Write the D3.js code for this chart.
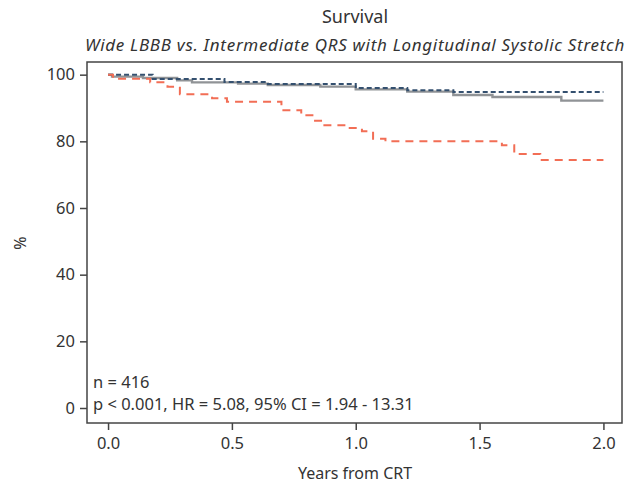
<!DOCTYPE html>
<html lang="en">
  <head>
    <meta charset="UTF-8" />
    <title>Survival</title>
    <script src="https://cdn.jsdelivr.net/npm/d3@7"></script>
    <style>
      body { margin: 0; background: #fff; }
      text { font-family: 'Noto Sans', 'Open Sans', sans-serif; fill: #333; }
    </style>
  </head>
  <body>
    <div id="chart_svg"></div>
    <script>
      // step times (years) and survival (%)
      const greyTimes = [0, 0.016, 0.141, 0.279, 0.339, 0.525, 0.645, 0.857, 1.0, 1.208, 1.394, 1.552, 1.83, 2.0]
      const greyValues = [100, 99.4, 99.0, 98.3, 97.7, 97.3, 96.9, 96.4, 95.6, 94.9, 93.9, 93.3, 92.2, 92.2]

      const blueTimes = [0, 0.18, 0.47, 0.645, 1.0, 1.208, 1.394, 2.0]
      const blueValues = [100, 98.7, 97.8, 97.2, 96.0, 95.3, 94.8, 94.8]

      const redTimes = [0, 0.02, 0.17, 0.24, 0.29, 0.42, 0.48, 0.7, 0.78, 0.83, 0.865, 0.97, 1.025, 1.07, 1.12, 1.59, 1.64, 1.745, 2.0]
      const redValues = [100, 98.8, 97.7, 96.4, 94.1, 92.9, 91.9, 89.3, 87.8, 86.2, 84.8, 84.0, 83.0, 80.8, 80.0, 78.8, 76.2, 74.4, 74.4]

      const xTicks = [0, 0.5, 1.0, 1.5, 2.0]
      const yTicks = [0, 20, 40, 60, 80, 100]
      const notes = ['n = 416', 'p < 0.001, HR = 5.08, 95% CI = 1.94 - 13.31']

      const width = 627
      const height = 486
      const m = { top: 62, right: 5, bottom: 63, left: 87 }

      const svg = d3
        .select('#chart_svg')
        .append('svg')
        .attr('width', width)
        .attr('height', height)

      const x = d3.scaleLinear().domain([-0.085, 2.075]).range([m.left, width - m.right])
      const y = d3.scaleLinear().domain([-4.5, 103.8]).range([height - m.bottom, m.top])

      const line = d3
        .line()
        .curve(d3.curveStepAfter)
        .x(d => x(d[0]))
        .y(d => y(d[1]))

      const series = [
        { t: greyTimes, v: greyValues, color: '#909396', width: 2.4, dash: null },
        { t: blueTimes, v: blueValues, color: '#34506f', width: 2, dash: '5,3' },
        { t: redTimes, v: redValues, color: '#f26e55', width: 2, dash: '8,6' }
      ]

      svg
        .selectAll('path.km')
        .data(series)
        .join('path')
        .attr('class', 'km')
        .attr('fill', 'none')
        .attr('stroke', d => d.color)
        .attr('stroke-width', d => d.width)
        .attr('stroke-dasharray', d => d.dash)
        .attr('d', d => line(d3.zip(d.t, d.v)))

      // frame
      svg
        .append('rect')
        .attr('x', m.left)
        .attr('y', m.top)
        .attr('width', width - m.right - m.left)
        .attr('height', height - m.bottom - m.top)
        .attr('fill', 'none')
        .attr('stroke', '#444')
        .attr('stroke-width', 1.5)

      const xAxis = svg
        .append('g')
        .attr('transform', `translate(0,${height - m.bottom})`)
        .call(d3.axisBottom(x).tickValues(xTicks).tickFormat(d3.format('.1f')).tickSize(7).tickPadding(7))
      const yAxis = svg
        .append('g')
        .attr('transform', `translate(${m.left},0)`)
        .call(d3.axisLeft(y).tickValues(yTicks).tickSize(7).tickPadding(5))

      for (const ax of [xAxis, yAxis]) {
        ax.select('.domain').remove()
        ax.selectAll('line').attr('stroke', '#444').attr('stroke-width', 1.5)
        ax.selectAll('text').style('font-size', '16.5px').attr('fill', '#333')
      }

      svg
        .append('text')
        .attr('x', 355)
        .attr('y', 23)
        .attr('text-anchor', 'middle')
        .style('font-size', '18px')
        .text('Survival')

      svg
        .append('text')
        .attr('x', 355)
        .attr('y', 51)
        .attr('text-anchor', 'middle')
        .style('font-size', '17px')
        .style('letter-spacing', '0.7px')
        .style('font-style', 'italic')
        .text('Wide LBBB vs. Intermediate QRS with Longitudinal Systolic Stretch')

      svg
        .append('text')
        .attr('x', 355)
        .attr('y', 479)
        .attr('text-anchor', 'middle')
        .style('font-size', '16px')
        .text('Years from CRT')

      svg
        .append('text')
        .attr('transform', 'translate(26,243) rotate(-90)')
        .attr('text-anchor', 'middle')
        .style('font-size', '16px')
        .text('%')

      svg
        .selectAll('text.note')
        .data(notes)
        .join('text')
        .attr('class', 'note')
        .attr('x', 93)
        .attr('y', (d, i) => 388 + i * 22)
        .style('font-size', '16.5px')
        .text(d => d)
    </script>
  </body>
</html>
